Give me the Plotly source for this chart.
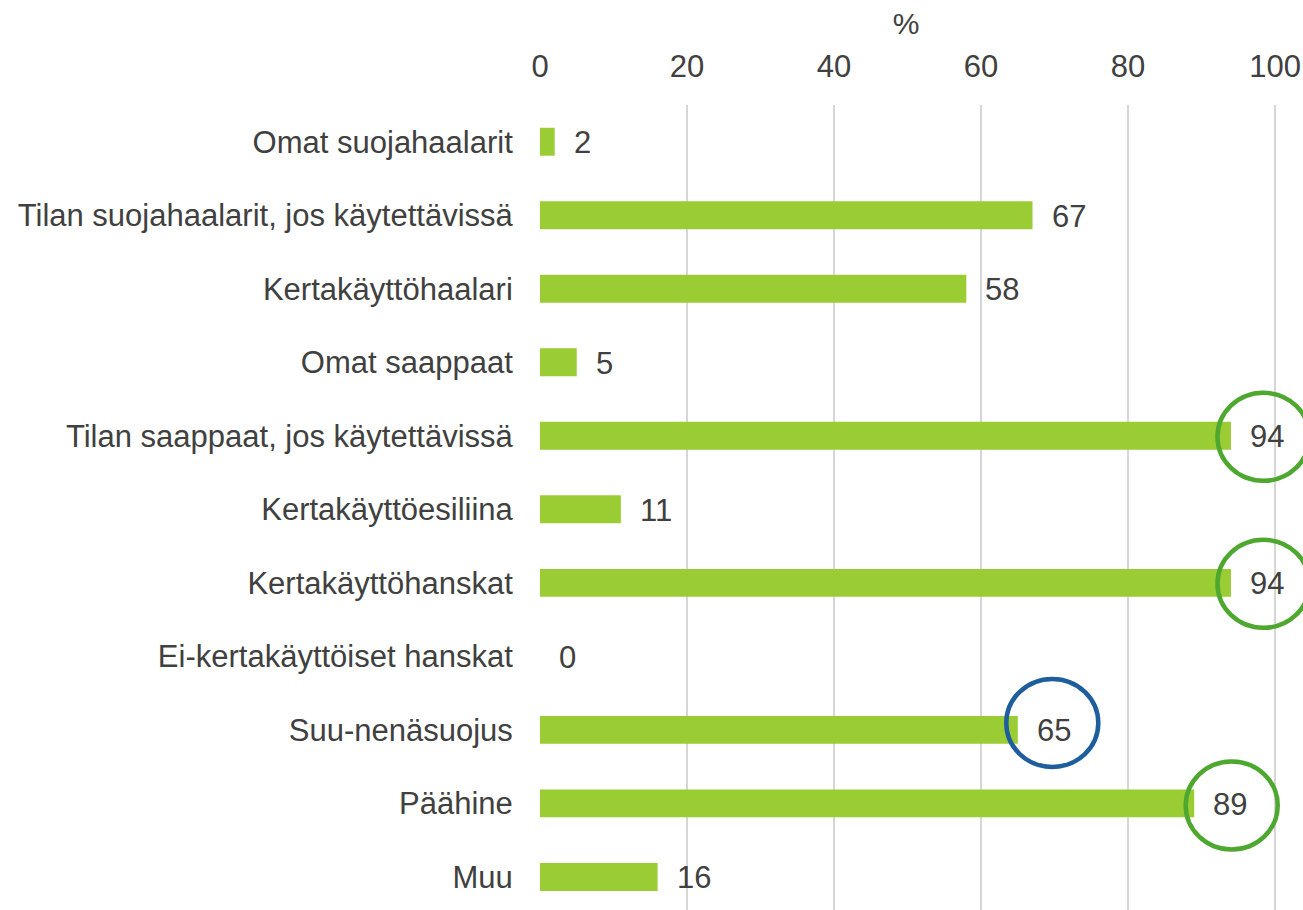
import plotly.graph_objects as go

categories = [
    "Omat suojahaalarit",
    "Tilan suojahaalarit, jos käytettävissä",
    "Kertakäyttöhaalari",
    "Omat saappaat",
    "Tilan saappaat, jos käytettävissä",
    "Kertakäyttöesiliina",
    "Kertakäyttöhanskat",
    "Ei-kertakäyttöiset hanskat",
    "Suu-nenäsuojus",
    "Päähine",
    "Muu",
]
values = [2, 67, 58, 5, 94, 11, 94, 0, 65, 89, 16]
tick_vals = [0, 20, 40, 60, 80, 100]
axis_title = "%"

# highlighted labels: (category index, colour, pixel nudge x, pixel nudge y)
highlights = [(4, "#4EA72E", -5, 1), (6, "#4EA72E", -5, 1),
              (8, "#1F5E9C", -3, -7), (9, "#4EA72E", 0, 2)]

FONT = "Liberation Sans, Arial, sans-serif"
TXT = "#404040"
FS = 31

W, H = 1303, 910
ML, MT = 540, 105
XMAX = 103.8
ROW_SPAN = 10.95

fig = go.Figure()
fig.add_trace(go.Bar(
    x=values, y=categories, orientation="h",
    marker=dict(color="#9ACD34", line=dict(width=0)),
    width=0.38,
    hoverinfo="x+y",
))

for cat, v in zip(categories, values):
    fig.add_annotation(
        x=v, y=cat, xref="x", yref="y", text=str(v), showarrow=False,
        xanchor="left", yanchor="middle", xshift=17, yshift=-1,
        font=dict(family=FONT, size=FS, color=TXT),
    )

px_per_unit = (W - ML) / XMAX
row_px = (H - MT) / ROW_SPAN
for idx, col, dx, dy in highlights:
    v = values[idx]
    label_w = 35 if v >= 10 else 18
    cx = v + (18 + label_w / 2 + 2 + dx) / px_per_unit
    rx = 46 / px_per_unit
    ry = 44 / row_px
    cy = idx + dy / row_px
    fig.add_shape(
        type="circle", xref="x", yref="y",
        x0=cx - rx, x1=cx + rx, y0=cy - ry, y1=cy + ry,
        line=dict(color=col, width=4.5), fillcolor="rgba(0,0,0,0)",
        layer="above",
    )

fig.update_layout(
    width=W, height=H,
    margin=dict(l=ML, r=0, t=MT, b=0),
    paper_bgcolor="white", plot_bgcolor="white",
    showlegend=False,
    font=dict(family=FONT, size=FS, color=TXT),
    title=dict(text=axis_title, x=906 / W, xref="container",
               xanchor="center", y=1 - 23 / H, yref="container", yanchor="middle",
               font=dict(family=FONT, size=FS - 1, color=TXT)),
    xaxis=dict(
        side="top", range=[0, XMAX], tickvals=tick_vals,
        ticktext=[str(t) for t in tick_vals],
        showgrid=True, gridcolor="#D6D6D6", gridwidth=2,
        zeroline=False, showline=False,
        ticks="outside", ticklen=15, tickcolor="white",
        tickfont=dict(family=FONT, size=FS, color=TXT),
        fixedrange=True,
    ),
    yaxis=dict(
        type="category", categoryorder="array", categoryarray=categories,
        range=[-0.5 + ROW_SPAN, -0.5], showgrid=False, zeroline=False, showline=False,
        ticks="outside", ticklen=20, tickcolor="white",
        tickfont=dict(family=FONT, size=FS, color=TXT),
        fixedrange=True,
    ),
)

fig.write_html(
    "out.html",
    config={"displayModeBar": False},
    post_script="document.body.style.margin='0';document.body.style.overflow='hidden';",
)
